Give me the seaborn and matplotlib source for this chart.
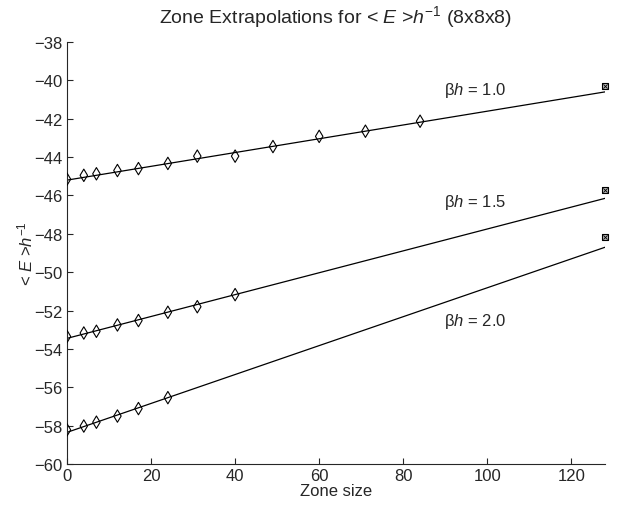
import seaborn as sns
import matplotlib
matplotlib.use("Agg")
import matplotlib.pyplot as plt

# zone sizes and <E>/h for the three beta*h values
zone = [0, 4, 7, 12, 17, 24, 31, 40, 49, 60, 71, 84]
e_b10 = [-45.15, -44.95, -44.87, -44.7, -44.6, -44.33, -43.95, -43.95, -43.45, -42.92, -42.65, -42.13]
zone_b15 = [0, 4, 7, 12, 17, 24, 31, 40]
e_b15 = [-53.35, -53.17, -53.08, -52.75, -52.52, -52.09, -51.8, -51.17]
zone_b20 = [0, 4, 7, 12, 17, 24]
e_b20 = [-58.22, -58.02, -57.82, -57.5, -57.11, -56.54]

# straight-line extrapolations (ends)
fit_x = [0, 128]
fit_b10 = [-45.2, -40.6]
fit_b15 = [-53.45, -46.15]
fit_b20 = [-58.35, -48.7]

# extrapolated (full lattice) values at zone size 128
zone_full = [128, 128, 128]
e_full = [-40.3, -45.7, -48.15]

labels = ["β$\\mathit{h}$ = 1.0", "β$\\mathit{h}$ = 1.5", "β$\\mathit{h}$ = 2.0"]
label_x = [97, 97, 97]
label_y = [-40.45, -46.33, -52.5]

sns.set_style("ticks")
plt.rcParams['font.family'] = ['Liberation Sans', 'DejaVu Sans']
plt.rcParams['mathtext.fontset'] = 'custom'
plt.rcParams['mathtext.rm'] = 'Liberation Sans'
plt.rcParams['mathtext.it'] = 'Liberation Sans:italic'
plt.rcParams['axes.unicode_minus'] = True

fig = plt.figure(figsize=(6.18, 5.06), dpi=100)
ax = fig.add_axes([0.1084, 0.081, 0.8706, 0.834])

for ys in [fit_b10, fit_b15, fit_b20]:
    sns.lineplot(x=fit_x, y=ys, ax=ax, color='black', lw=0.9)

for xs, ys in [(zone, e_b10), (zone_b15, e_b15), (zone_b20, e_b20)]:
    sns.scatterplot(x=xs, y=ys, ax=ax, marker='d', s=40, facecolor='none',
                    edgecolor='black', linewidth=0.8, zorder=3)

sns.scatterplot(x=zone_full, y=e_full, ax=ax, marker='s', s=18, facecolor='#bbbbbb',
                edgecolor='black', linewidth=0.8, zorder=3, clip_on=False)
sns.scatterplot(x=zone_full, y=e_full, ax=ax, marker='x', s=9, color='black',
                linewidth=0.6, zorder=4, clip_on=False)

for lx, ly, t in zip(label_x, label_y, labels):
    ax.text(lx, ly, t, fontsize=12, ha='center', va='center')

ax.set_xlim(0, 128)
ax.set_ylim(-60, -38)
ax.set_xticks(range(0, 121, 20))
ax.set_yticks(range(-60, -37, 2))
ax.tick_params(direction='in', labelsize=12, length=4, width=0.8, pad=3)
for s in ['left', 'bottom']:
    ax.spines[s].set_linewidth(0.8)
sns.despine(ax=ax)

ax.set_xlabel('Zone size', fontsize=12, labelpad=0)
ax.set_ylabel('< $E$ >$h^{-1}$', fontsize=12, labelpad=-1)
ax.set_title('Zone Extrapolations for < $E$ >$h^{-1}$ (8x8x8)', fontsize=14, pad=14)

fig.savefig('out.png', dpi=100)
